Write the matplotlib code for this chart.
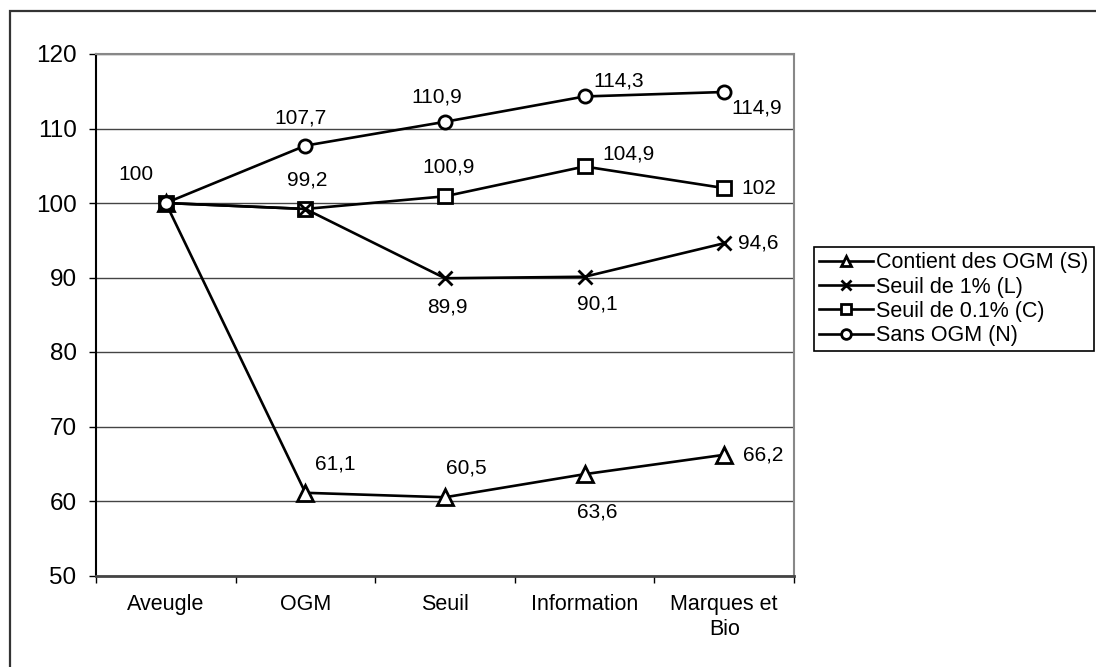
import numpy as np
import matplotlib
matplotlib.use("Agg")
import matplotlib.pyplot as plt
from matplotlib.patches import Rectangle

plt.rcParams['font.family'] = ['Liberation Sans', 'DejaVu Sans']

categories = ["Aveugle", "OGM", "Seuil", "Information", "Marques et\nBio"]
series_names = ["Contient des OGM (S)", "Seuil de 1% (L)", "Seuil de 0.1% (C)", "Sans OGM (N)"]
s_values = [100, 61.1, 60.5, 63.6, 66.2]
l_values = [100, 99.2, 89.9, 90.1, 94.6]
c_values = [100, 99.2, 100.9, 104.9, 102]
n_values = [100, 107.7, 110.9, 114.3, 114.9]
y_ticks = [50, 60, 70, 80, 90, 100, 110, 120]

# data label offsets in pixels (None = no label)
s_off = [None, (30, 29), (21, 29), (13, -38), (39, 0)]
l_off = [None, None, (2, -29), (13, -27), (34, 0)]
c_off = [None, (2, 29), (4, 29), (44, 12), (35, 0)]
n_off = [(-30, 28), (-5, 28), (-8, 25), (34, 15), (32, -16)]

def fmt(v):
    s = ("%.1f" % v).rstrip("0").rstrip(".")
    return s.replace(".", ",")

fig = plt.figure(figsize=(10.96, 6.67), dpi=100)
ax = fig.add_axes([96/1096, 1 - 575.5/667, (794 - 96)/1096, (575.5 - 54)/667])

x = np.arange(len(categories))
styles = [
    (s_values, "^", 11, s_off),
    (c_values, "s", 9.5, c_off),
    (l_values, "x", 10, l_off),
    (n_values, "o", 9.5, n_off),
]
order = [0, 2, 1, 3]  # legend order: S, L, C, N
handles = []
for vals, mk, ms, offs in styles:
    h, = ax.plot(x, vals, color="black", lw=1.9, marker=mk, ms=ms,
                 mfc="white", mec="black", mew=2, zorder=3)
    handles.append(h)
    for xi, v, off in zip(x, vals, offs):
        if off is None:
            continue
        ax.annotate(fmt(v), (xi, v), xytext=off, textcoords="offset pixels",
                    ha="center", va="center", fontsize=15, zorder=4)

ax.set_xlim(-0.5, len(categories) - 0.5)
ax.set_ylim(50, 120)
ax.set_yticks(y_ticks)
ax.tick_params(axis="y", labelsize=17.5, length=5, width=1, pad=9)
ax.yaxis.grid(True, color="#444444", lw=1)
ax.set_axisbelow(True)

ax.set_xticks(np.arange(len(categories) + 1) - 0.5)
ax.set_xticklabels([])
ax.set_xticks(x, minor=True)
ax.set_xticklabels(categories, minor=True, fontsize=15.5, linespacing=1.3)
ax.tick_params(axis="x", which="major", length=5, width=1)
ax.tick_params(axis="x", which="minor", length=0, pad=13)

ax.spines["left"].set_color("black")
ax.spines["left"].set_linewidth(1.5)
ax.spines["bottom"].set_color("#444444")
ax.spines["bottom"].set_linewidth(2)
for side in ["top", "right"]:
    ax.spines[side].set_color("#888888")
    ax.spines[side].set_linewidth(1.5)

leg = fig.legend([handles[i] for i in order], series_names,
                 loc="upper left", bbox_to_anchor=(814/1096, 1 - 247/667),
                 fontsize=15.5, frameon=True, fancybox=False, framealpha=1,
                 edgecolor="black", handlelength=2.5, handletextpad=0.15,
                 borderpad=0.25, labelspacing=0.15, borderaxespad=0)
leg.get_frame().set_linewidth(1.2)
for lh in leg.legend_handles:
    lh.set_markersize(7)

fig.patches.append(Rectangle((10/1096, -0.1), 1.2, 1 - 11/667 + 0.1,
                             transform=fig.transFigure, fill=False,
                             edgecolor="#333333", lw=1.6))

fig.savefig("out.png", dpi=100)
